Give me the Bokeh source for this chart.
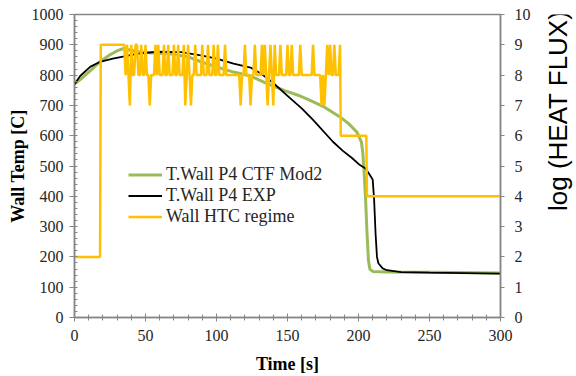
import math
from bokeh.plotting import figure
from bokeh.layouts import row
from bokeh.models import (Range1d, LinearAxis, SingleIntervalTicker,
                          Legend, LegendItem)
from bokeh.core.properties import value
from bokeh.embed import file_html
from bokeh.resources import INLINE

# ---- data ----
ctf_time = [0, 4, 11, 18, 25, 30, 34, 40, 44, 55, 68, 80, 89, 100, 112, 124,
            136, 149, 159, 164, 175, 187, 193, 199, 202, 203, 204, 205, 206,
            207, 208, 210, 220, 250, 300]
ctf_temp = [770, 785, 814, 844, 867, 880, 887, 882, 877, 873, 870, 860, 844,
            827, 810, 797, 771, 747, 731, 721, 697, 662, 640, 611, 580, 545,
            478, 389, 279, 189, 160, 152, 150, 149, 147]

exp_time = [0, 4, 11, 18, 27, 44, 58, 75, 89, 100, 112, 124, 132, 140, 152,
            160, 168, 182, 189, 195, 201, 205, 208, 210, 211, 212, 213, 214,
            217, 220, 230, 250, 300]
exp_temp = [770, 797, 827, 844, 854, 870, 877, 876, 865, 854, 838, 825, 803,
            774, 723, 690, 652, 580, 550, 528, 503, 492, 470, 455, 389, 279,
            200, 179, 162, 156, 150, 148, 145]

htc_time = [0, 18, 18.5,
            35, 36, 37, 38, 39, 40, 41, 42, 43, 44, 45, 46, 47, 48, 49, 50,
            51, 52, 53, 54, 55, 56, 57, 58, 59, 60, 61, 62, 63, 64, 65, 66,
            67, 68, 69, 70, 71, 72, 73, 74, 75, 76, 77, 78, 79, 80, 81, 82,
            83, 84, 85, 86, 87, 88, 89, 90, 91, 92, 93, 94, 95, 96, 97, 98,
            99, 100, 101, 102, 103, 104, 105, 106, 107, 108, 109, 110, 111,
            112, 113, 114, 115, 116, 117, 118, 119, 120, 121, 122, 123, 124,
            125, 126, 127, 128, 129, 130, 131, 132, 133, 134, 135, 136, 137,
            138, 139, 140, 141, 142, 143, 144, 145, 146, 147, 148, 149, 150,
            151, 152, 153, 154, 155, 156, 157, 158, 159, 160, 161, 162, 163,
            164, 165, 166, 167, 168, 169, 170, 171, 172, 173, 174, 175, 176,
            177, 178, 179, 180, 181, 182, 183, 184, 185, 186, 187,
            187.5, 205.5, 206, 300]
htc_regime = [2, 2, 9,
              9, 8, 9, 8, 7, 9, 8, 8, 9, 9, 8, 8, 9, 8, 8, 9,
              8, 8, 7, 8, 8, 8, 9, 8, 9, 8, 8, 8, 9, 8, 8, 9,
              8, 8, 8, 9, 8, 8, 9, 8, 8, 8, 9, 7, 8, 9, 8, 7,
              8, 8, 9, 8, 8, 8, 8, 9, 8, 8, 8, 9, 8, 8, 8, 9,
              8, 8, 9, 8, 8, 8, 8, 9, 8, 8, 8, 8, 8,
              8, 8, 8, 8, 8, 7, 8, 8, 9, 8, 8, 8, 7,
              8, 8, 9, 8, 8, 8, 8, 9, 8, 9, 8, 7, 8,
              9, 8, 7, 9, 8, 8, 8, 9, 8, 8, 8, 8, 9,
              8, 8, 9, 8, 8, 8, 8, 8, 9, 8, 8, 8, 8,
              8, 8, 8, 8, 9, 8, 8, 8, 8, 8, 7, 8, 7,
              8, 9, 8, 9, 8, 8, 9, 8, 8, 8, 9,
              6, 6, 4, 4]

x_ticks_interval = 50
y_ticks_interval = 100
htc_ticks_interval = 1
right_title = "log (HEAT FLUX)"

GREEN = "#9BBB59"
YELLOW = "#FFC000"
AXIS = "#868686"
TXT = "#262626"
SERIF = "Liberation Serif"

p = figure(output_backend="svg", toolbar_location=None,
           frame_width=426, frame_height=303,
           x_range=Range1d(0, 300), y_range=Range1d(0, 1000),
           min_border_left=74, min_border_right=0,
           min_border_top=14, min_border_bottom=46)
p.extra_y_ranges = {"htc": Range1d(0, 10)}
p.grid.visible = False
p.outline_line_color = AXIS
p.outline_line_width = 1.5
p.background_fill_color = "white"
p.border_fill_color = "white"

r_ctf = p.line(ctf_time, ctf_temp, line_color=GREEN, line_width=3)
r_exp = p.line(exp_time, exp_temp, line_color="black", line_width=1.8)
r_htc = p.line(htc_time, htc_regime, line_color=YELLOW, line_width=2.5,
               y_range_name="htc")

# x axis
xa = p.xaxis[0]
xa.ticker = SingleIntervalTicker(interval=x_ticks_interval, num_minor_ticks=5)
xa.axis_label = "Time [s]"
# y axis
ya = p.yaxis[0]
ya.ticker = SingleIntervalTicker(interval=y_ticks_interval, num_minor_ticks=5)
ya.axis_label = "Wall Temp [C]"

ra = LinearAxis(y_range_name="htc",
                ticker=SingleIntervalTicker(interval=htc_ticks_interval,
                                            num_minor_ticks=0))
p.add_layout(ra, "right")

for ax in (xa, ya, ra):
    ax.axis_line_color = AXIS
    ax.axis_line_width = 1.5
    ax.major_tick_line_color = AXIS
    ax.minor_tick_line_color = AXIS
    ax.major_label_text_font = SERIF
    ax.major_label_text_font_size = "16px"
    ax.major_label_text_color = TXT
    ax.axis_label_text_font = SERIF
    ax.axis_label_text_font_style = "bold"
    ax.axis_label_text_color = "black"

xa.major_tick_in = 4
xa.major_tick_out = 4
xa.minor_tick_in = 3
xa.minor_tick_out = 3
xa.major_label_standoff = 8
xa.axis_label_text_font_size = "18px"
xa.axis_label_standoff = 10

ya.major_tick_in = 0
ya.major_tick_out = 5
ya.minor_tick_in = 3
ya.minor_tick_out = 0
ya.major_label_standoff = 6
ya.axis_label_text_font_size = "18px"
ya.axis_label_standoff = 1

ra.major_tick_in = 0
ra.major_tick_out = 4
ra.minor_tick_in = 0
ra.minor_tick_out = 0
ra.major_label_standoff = 10

legend = Legend(items=[
    LegendItem(label="T.Wall P4 CTF Mod2", renderers=[r_ctf]),
    LegendItem(label="T.Wall P4 EXP", renderers=[r_exp]),
    LegendItem(label="Wall HTC regime", renderers=[r_htc]),
], location=(54, 90))
legend.border_line_color = None
legend.background_fill_alpha = 0
legend.padding = 0
legend.margin = 0
legend.spacing = -3
legend.glyph_width = 34
legend.glyph_height = 19
legend.label_height = 19
legend.label_standoff = 4
legend.label_text_font = SERIF
legend.label_text_font_size = "18px"
legend.label_text_color = TXT
p.add_layout(legend)

# narrow companion panel carrying the right-hand axis title
TH = 370
t = figure(output_backend="svg", toolbar_location=None,
           width=44, height=TH, min_border=0,
           x_range=Range1d(0, 44), y_range=Range1d(0, TH))
t.axis.visible = False
t.grid.visible = False
t.outline_line_color = None
t.border_fill_color = None
t.background_fill_color = None
t.text(x=[24], y=[TH - 120], text=[right_title], angle=math.pi / 2,
       text_align="center", text_baseline="middle",
       text_font=value("Liberation Sans"), text_font_size="26px",
       text_color="black")

layout = row(p, t, spacing=0)
open("out.html", "w").write(file_html(layout, INLINE))
